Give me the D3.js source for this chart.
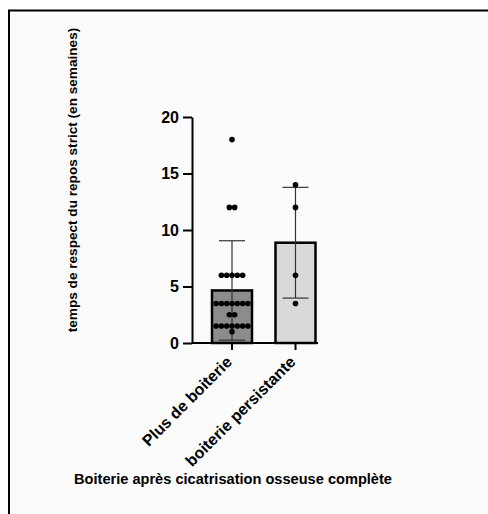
<!DOCTYPE html>
<html>
<head>
<meta charset="utf-8">
<script src="https://cdn.jsdelivr.net/npm/d3@7"></script>
<style>
  body { margin: 0; background: #fff; }
  svg text { font-family: "Liberation Sans", Arial, sans-serif; font-weight: bold; fill: #000; }
</style>
</head>
<body>
<script>
// groups on the x axis
var categories = ["Plus de boiterie", "boiterie persistante"];
// mean and SD of each group (as plotted)
var means = [4.65, 8.875];
var sds = [4.4, 4.9];
// individual points
var pointsGroup1 = [18, 12, 12, 6, 6, 6, 6, 6, 3.5, 3.5, 3.5, 3.5, 3.5, 3.5, 3.5,
  2.5, 2.5, 1.5, 1.5, 1.5, 1.5, 1.5, 1.5, 1.5, 1];
var pointsGroup2 = [14, 12, 6, 3.5];
var yTicks = [0, 5, 10, 15, 20];
var barFills = ["#8c8c8c", "#d9d9d9"];

var width = 488, height = 514;

var svg = d3.select("body").append("svg")
  .attr("width", width)
  .attr("height", height);

// page frame
svg.append("rect")
  .attr("x", 0).attr("y", 0).attr("width", width).attr("height", height)
  .attr("fill", "#fff");
svg.append("rect")
  .attr("x", 9).attr("y", 10.5).attr("width", width + 20).attr("height", height + 20)
  .attr("fill", "#fbfbfb")
  .attr("stroke", "#000").attr("stroke-width", 2);

var y = d3.scaleLinear().domain([0, 20]).range([343, 117]);
var x = d3.scaleBand().domain(categories)
  .range([192, 335.5]).paddingInner(0.37).paddingOuter(0.315);

var xAxisEnd = 318;

// bars
svg.selectAll("rect.bar")
  .data(categories)
  .enter().append("rect")
  .attr("class", "bar")
  .attr("x", function(d){ return x(d); })
  .attr("y", function(d, i){ return y(means[i]); })
  .attr("width", x.bandwidth())
  .attr("height", function(d, i){ return y(0) - y(means[i]); })
  .attr("fill", function(d, i){ return barFills[i]; })
  .attr("stroke", "#000")
  .attr("stroke-width", 2.5);

// error bars (mean +/- SD)
var capW = 26;
categories.forEach(function(c, i){
  var cx = x(c) + x.bandwidth() / 2;
  var lo = Math.max(0, means[i] - sds[i]);
  var hi = means[i] + sds[i];
  var g = svg.append("g").attr("stroke", "#333").attr("stroke-width", 1.2);
  g.append("line").attr("x1", cx).attr("x2", cx).attr("y1", y(lo)).attr("y2", y(hi));
  g.append("line").attr("x1", cx - capW/2).attr("x2", cx + capW/2).attr("y1", y(hi)).attr("y2", y(hi));
  g.append("line").attr("x1", cx - capW/2).attr("x2", cx + capW/2).attr("y1", y(lo)).attr("y2", y(lo));
});

// scatter points, equal values spread side by side
var spacing = 5.3;
[pointsGroup1, pointsGroup2].forEach(function(pts, i){
  var cx = x(categories[i]) + x.bandwidth() / 2;
  var counts = d3.rollup(pts, function(v){ return v.length; }, function(d){ return d; });
  var seen = new Map();
  var dots = pts.map(function(v){
    var n = counts.get(v);
    var k = seen.get(v) || 0;
    seen.set(v, k + 1);
    return { v: v, dx: (k - (n - 1) / 2) * spacing };
  });
  svg.selectAll(null)
    .data(dots)
    .enter().append("circle")
    .attr("cx", function(d){ return cx + d.dx; })
    .attr("cy", function(d){ return y(d.v); })
    .attr("r", 2.8)
    .attr("fill", "#000");
});

// y axis
var yAxis = svg.append("g")
  .attr("transform", "translate(192,0)")
  .call(d3.axisLeft(y).tickValues(yTicks).tickSize(9).tickSizeOuter(0).tickPadding(4));
yAxis.select(".domain").attr("stroke-width", 2);
yAxis.selectAll(".tick line").attr("stroke-width", 2);
yAxis.selectAll(".tick text").style("font-size", "16px");

// x axis
var xAxis = svg.append("g")
  .attr("transform", "translate(0,343)")
  .call(d3.axisBottom(x).tickSize(7).tickSizeOuter(0).tickFormat(""));
xAxis.select(".domain").attr("d", "M192,0H" + xAxisEnd).attr("stroke-width", 2);
xAxis.selectAll(".tick line").attr("stroke-width", 2);

// rotated category labels
svg.selectAll("text.xlab")
  .data(categories)
  .enter().append("text")
  .attr("class", "xlab")
  .attr("text-anchor", "end")
  .attr("transform", function(d){
    var cx = x(d) + x.bandwidth() / 2;
    return "translate(" + (cx + 1) + ",363) rotate(-45)";
  })
  .style("font-size", "16px")
  .text(function(d){ return d; });

// axis titles
svg.append("text")
  .attr("text-anchor", "middle")
  .attr("transform", "translate(77,180) rotate(-90)")
  .style("font-size", "13.6px")
  .text("temps de respect du repos strict (en semaines)");

svg.append("text")
  .attr("text-anchor", "middle")
  .attr("x", 233).attr("y", 484)
  .style("font-size", "14.6px")
  .text("Boiterie après cicatrisation osseuse complète");
</script>
</body>
</html>
